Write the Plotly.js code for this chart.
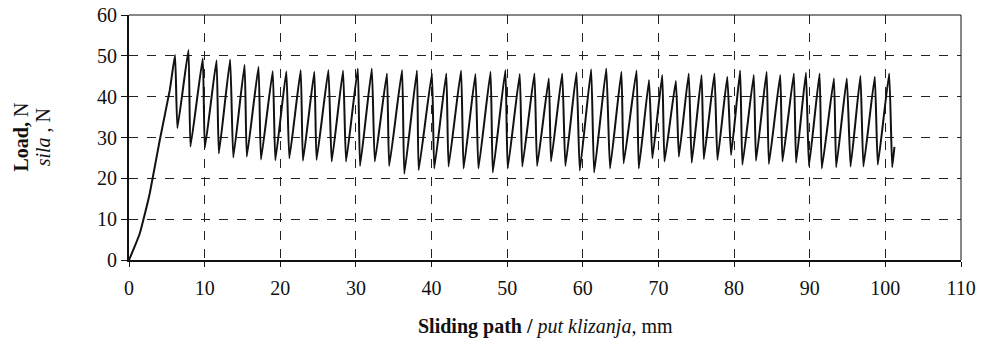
<!DOCTYPE html>
<html>
<head>
<meta charset="utf-8">
<script src="https://cdn.plot.ly/plotly-3.0.1.min.js"></script>
<style>html,body{margin:0;padding:0;background:#fff;}#chart{width:983px;height:341px;}</style>
</head>
<body>
<div id="chart"></div>
<script>
// Sliding path (mm) and load (N) (ramp, then peak/trough pairs)
const slidingPath = [
  0, 0.66, 1.42, 2.0, 2.74, 4.07, 5.39,
  6.09, 6.4, 7.86, 8.13, 9.75, 10.03, 11.57, 11.88, 13.37, 13.79,
  15.28, 15.58, 17.12, 17.45, 19.0, 19.35, 20.8, 21.2, 22.7, 23.0,
  24.5, 24.8, 26.36, 26.8, 28.3, 28.7, 30.25, 30.55, 32.1, 32.5,
  34.1, 34.4, 36.1, 36.4, 38.07, 38.3, 40.05, 40.36, 41.95, 42.25,
  43.9, 44.24, 45.8, 46.2, 47.8, 48.1, 49.76, 50.07, 51.66, 52.0,
  53.6, 53.96, 55.5, 55.8, 57.27, 57.7, 59.16, 59.6, 61.1, 61.5,
  63.1, 63.6, 65.1, 65.4, 67.1, 67.4, 68.75, 69.2, 70.5, 70.8,
  72.3, 72.7, 74.0, 74.4, 75.7, 76.0, 77.4, 77.8, 79.1, 79.6,
  80.8, 81.1, 82.6, 82.9, 84.3, 84.6, 86.1, 86.4, 87.9, 88.2,
  89.5, 89.9, 91.3, 91.6, 93.2, 93.5, 94.9, 95.4, 96.7, 97.1,
  98.6, 99.0, 100.5, 100.9, 101.2
];
const load = [
  0, 2.9, 6.5, 10.6, 16.3, 29.4, 41.6,
  50.2, 32.3, 51.4, 27.8, 49.4, 27.4, 48.9, 26.1, 49.1, 25.1,
  47.8, 25.3, 47.3, 24.6, 46.3, 24.4, 46.2, 24.9, 46.5, 24.3,
  46.1, 24.5, 46.5, 24.1, 46.4, 24.1, 46.9, 23.0, 46.9, 24.1,
  45.7, 23.0, 46.5, 21.1, 46.4, 22.0, 45.7, 22.4, 45.7, 22.9,
  46.4, 22.4, 45.55, 22.4, 46.1, 21.4, 46.5, 22.4, 45.55, 22.9,
  45.7, 23.0, 44.5, 24.1, 45.7, 23.0, 45.9, 21.9, 46.7, 21.4,
  46.9, 22.4, 46.1, 23.7, 46.4, 22.4, 44.1, 24.9, 45.3, 24.1,
  43.9, 25.3, 45.7, 23.8, 45.3, 24.7, 45.7, 24.5, 44.9, 25.7,
  46.4, 23.3, 45.3, 24.3, 46.1, 23.5, 45.3, 24.1, 45.7, 23.8,
  45.9, 23.0, 45.7, 22.4, 44.5, 22.7, 44.5, 22.9, 45.1, 22.9,
  44.9, 23.3, 45.7, 22.7, 27.7
];
const xTicks = [0, 10, 20, 30, 40, 50, 60, 70, 80, 90, 100, 110];
const yTicks = [0, 10, 20, 30, 40, 50, 60];

const FONT = '"Liberation Serif", "Times New Roman", serif';
const INK = '#111';

const trace = {
  x: slidingPath, y: load, type: 'scatter', mode: 'lines',
  line: {color: INK, width: 2, shape: 'spline', smoothing: 0.35}, hoverinfo: 'skip'
};

const layout = {
  width: 983, height: 341,
  margin: {l: 129, r: 22, t: 15, b: 81},
  paper_bgcolor: '#fff', plot_bgcolor: '#fff',
  showlegend: false,
  font: {family: FONT, size: 20, color: INK},
  xaxis: {
    range: [0, 110], tickvals: xTicks, ticktext: xTicks.map(String),
    showgrid: true, gridcolor: '#222', griddash: 'dash', gridwidth: 1,
    zeroline: false, showline: true, linecolor: INK, linewidth: 2,
    ticks: 'outside', ticklen: 5, tickcolor: INK, tickwidth: 1,
    ticklabelstandoff: 4,
    tickfont: {family: FONT, size: 20, color: INK}
  },
  yaxis: {
    range: [0, 60], tickvals: yTicks, ticktext: yTicks.map(String),
    showgrid: true, gridcolor: '#222', griddash: 'dash', gridwidth: 1,
    zeroline: false, showline: true, linecolor: INK, linewidth: 2,
    ticks: 'outside', ticklen: 6, tickcolor: INK, tickwidth: 1,
    tickfont: {family: FONT, size: 20, color: INK}
  },
  annotations: [
    {text: '<b>Sliding path /</b> <i>put klizanja,</i> mm', xref: 'paper', yref: 'paper',
     x: 0.5, y: -0.2694, xanchor: 'center', yanchor: 'middle', showarrow: false,
     font: {family: FONT, size: 20, color: INK}},
    {text: '<b>Load,</b> N', xref: 'paper', yref: 'paper', textangle: -90,
     x: -0.131, y: 0.5, xanchor: 'center', yanchor: 'middle', showarrow: false,
     font: {family: FONT, size: 20, color: INK}},
    {text: '<i>sila</i> , N', xref: 'paper', yref: 'paper', textangle: -90,
     x: -0.1036, y: 0.5, xanchor: 'center', yanchor: 'middle', showarrow: false,
     font: {family: FONT, size: 20, color: INK}}
  ],
  shapes: [
    {type: 'line', xref: 'paper', yref: 'paper', x0: 0, x1: 1, y0: 1, y1: 1, line: {color: INK, width: 1}},
    {type: 'line', xref: 'paper', yref: 'paper', x0: 1, x1: 1, y0: 0, y1: 1, line: {color: INK, width: 1}}
  ]
};

Plotly.newPlot('chart', [trace], layout, {displayModeBar: false, staticPlot: true});
</script>
</body>
</html>
